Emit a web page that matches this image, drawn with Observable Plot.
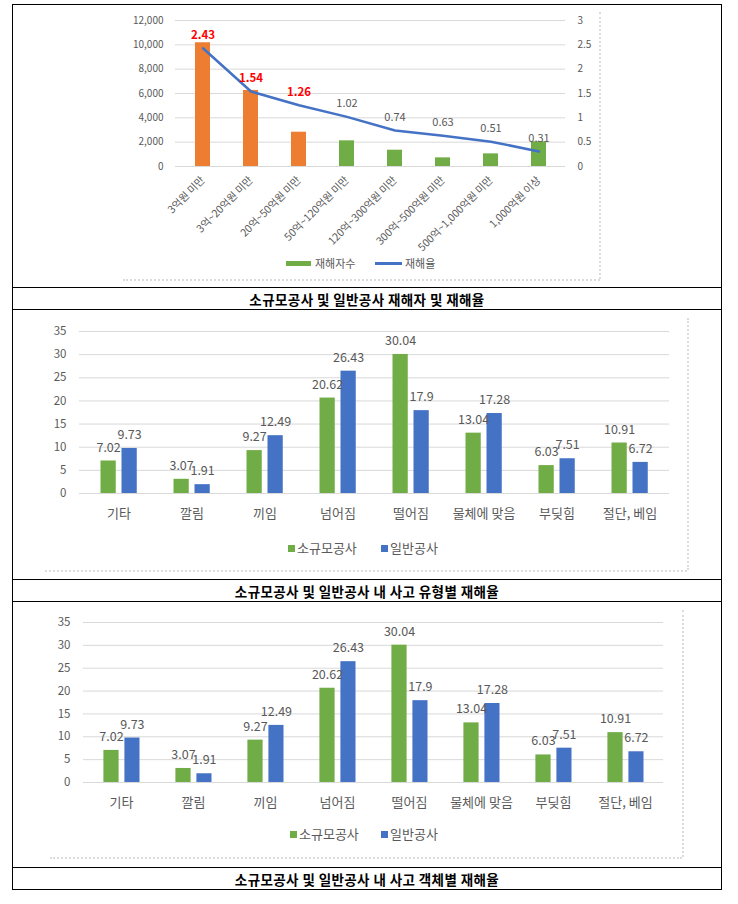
<!DOCTYPE html>
<html><head><meta charset="utf-8">
<script src="https://cdn.jsdelivr.net/npm/d3@7"></script>
<script src="https://cdn.jsdelivr.net/npm/@observablehq/plot@0.6"></script>
<style>
body{margin:0;background:#fff;font-family:"Noto Sans CJK KR","Noto Sans",sans-serif;}
#page{position:relative;width:738px;height:904px;overflow:hidden;}
.abs{position:absolute;}
.box{position:absolute;left:12px;top:4px;width:708px;height:884px;border:1.5px solid #000;}
.hl{position:absolute;left:12px;width:710px;height:0;border-top:1.5px solid #000;}
.cap{position:absolute;left:12px;width:710px;height:22px;line-height:22px;text-align:center;font-weight:bold;font-size:13.5px;letter-spacing:0.4px;color:#000;}
.shR{position:absolute;width:0;border-left:2px dotted #dcdcdc;}
.shB{position:absolute;height:0;border-top:2px dotted #dcdcdc;}
.leg{position:absolute;color:#595959;white-space:nowrap;}
svg{overflow:visible;}
</style></head>
<body><div id="page"></div>
<script>
// ---------- Data: chart 1 ----------
const sizeCats = ["3억원 미만","3억~20억원 미만","20억~50억원 미만","50억~120억원 미만","120억~300억원 미만","300억~500억원 미만","500억~1,000억원 미만","1,000억원 이상"];
const workerCounts = [10170, 6250, 2820, 2110, 1340, 710, 1040, 2030];
const injuryRates = [2.43, 1.54, 1.26, 1.02, 0.74, 0.63, 0.51, 0.31];
const contractGroup = ["소규모공사","소규모공사","소규모공사","일반공사","일반공사","일반공사","일반공사","일반공사"];
const countTicks = [0, 2000, 4000, 6000, 8000, 10000, 12000];
const chart1Series = ["재해자수", "재해율"];

// ---------- Data: charts 2 & 3 ----------
const accidentTypes = ["기타","깔림","끼임","넘어짐","떨어짐","물체에 맞음","부딪힘","절단, 베임"];
const smallRates = [7.02, 3.07, 9.27, 20.62, 30.04, 13.04, 6.03, 10.91];
const generalRates = [9.73, 1.91, 12.49, 26.43, 17.9, 17.28, 7.51, 6.72];
const rateTicks = [0, 5, 10, 15, 20, 25, 30, 35];
const groupSeries = ["소규모공사", "일반공사"];

const captions = ["소규모공사 및 일반공사 재해자 및 재해율", "소규모공사 및 일반공사 내 사고 유형별 재해율", "소규모공사 및 일반공사 내 사고 객체별 재해율"];

const ORANGE = "#ED7D31", GREEN = "#70AD47", BLUE = "#4472C4", GRID = "#D9D9D9", TXT = "#595959";
const page = document.getElementById("page");
function place(el, left, top) { el.style.position = "absolute"; el.style.left = left + "px"; el.style.top = top + "px"; page.appendChild(el); return el; }
function div(cls, css) { const d = document.createElement("div"); d.className = cls; Object.assign(d.style, css); page.appendChild(d); return d; }

// ---------- Chart 1 ----------
const RATIO = countTicks[countTicks.length - 1] / 3; // right axis 0..3
const data1 = sizeCats.map((c, i) => ({cat: c, count: workerCounts[i], rate: injuryRates[i], group: contractGroup[i]}));
const isSmall = d => d.group === "소규모공사";
const chart1 = Plot.plot({
  width: 738, height: 287,
  marginLeft: 175, marginRight: 173, marginTop: 20, marginBottom: 121,
  style: {fontFamily: '"Noto Sans CJK KR", sans-serif', fontSize: "10px", color: TXT, background: "transparent"},
  x: {domain: sizeCats, paddingInner: 0.69, paddingOuter: 0.345, label: null},
  y: {domain: [0, 12000], label: null},
  marks: [
    Plot.ruleY(countTicks, {stroke: GRID, strokeWidth: 1}),
    Plot.barY(data1, {x: "cat", y: "count", fill: d => isSmall(d) ? ORANGE : GREEN}),
    Plot.line(data1, {x: "cat", y: d => d.rate * RATIO, stroke: BLUE, strokeWidth: 2.5}),
    Plot.text(data1.filter(isSmall), {x: "cat", y: d => d.rate * RATIO, text: d => String(d.rate), dy: -13,
      fill: "#FF0000", fontWeight: "bold", fontSize: 11.5}),
    Plot.text(data1.filter(d => !isSmall(d)), {x: "cat", y: d => d.rate * RATIO, text: d => String(d.rate), dy: -13,
      fill: TXT, fontSize: 11}),
    Plot.axisY({ticks: countTicks, tickFormat: d3.format(","), tickSize: 0, tickPadding: 12, label: null, fontSize: 10}),
    Plot.axisY({anchor: "right", ticks: countTicks, tickFormat: d => String(d / RATIO), tickSize: 0, tickPadding: 12, label: null, fontSize: 10}),
    Plot.axisX({tickRotate: -45, tickSize: 0, tickPadding: 12, label: null, fontSize: 10.5})
  ]
});
place(chart1, 0, 0);
div("shR", {left: "599px", top: "12px", height: "267px"});
div("shB", {left: "123px", top: "279px", width: "477px"});
// legend chart 1
div("abs", {left: "286px", top: "261px", width: "25px", height: "5px", background: GREEN});
div("leg", {left: "315px", top: "255px", fontSize: "11px", lineHeight: "16px"}).textContent = chart1Series[0];
div("abs", {left: "375px", top: "262px", width: "27px", height: "2.5px", background: BLUE});
div("leg", {left: "405px", top: "255px", fontSize: "11px", lineHeight: "16px"}).textContent = chart1Series[1];

// ---------- Charts 2 & 3 ----------
const data2 = accidentTypes.map((c, i) => ({cat: c, small: smallRates[i], general: generalRates[i]}));
function grouped(cfg) {
  const plot = Plot.plot({
    width: 738, height: cfg.height,
    marginLeft: cfg.ml, marginRight: cfg.mr, marginTop: cfg.mt, marginBottom: cfg.mb,
    style: {fontFamily: '"Noto Sans CJK KR", sans-serif', fontSize: "11.5px", color: TXT, background: "transparent"},
    x: {domain: accidentTypes, padding: 0, label: null},
    y: {domain: [0, 35], label: null},
    marks: [
      Plot.ruleY(rateTicks, {stroke: GRID, strokeWidth: 1}),
      Plot.barY(data2, {x: "cat", y: "small", fill: GREEN, insetLeft: cfg.gL, insetRight: cfg.gR}),
      Plot.barY(data2, {x: "cat", y: "general", fill: BLUE, insetLeft: cfg.bL, insetRight: cfg.bR}),
      Plot.text(data2, {x: "cat", y: "small", text: d => String(d.small), dx: cfg.gdx, dy: -13.5, fill: TXT, fontSize: 12.5}),
      Plot.text(data2, {x: "cat", y: "general", text: d => String(d.general), dx: cfg.bdx, dy: -13.5, fill: TXT, fontSize: 12.5}),
      Plot.axisY({ticks: rateTicks, tickSize: 0, tickPadding: 13, label: null, fontSize: 11.5}),
      Plot.axisX({tickSize: 0, tickPadding: 15, label: null, fontSize: 13})
    ]
  });
  place(plot, 0, cfg.top);
  div("abs", {left: cfg.legX[0] + "px", top: (cfg.legY - 3.5) + "px", width: "7px", height: "7px", background: GREEN});
  div("leg", {left: (cfg.legX[0] + 9) + "px", top: (cfg.legY - 10) + "px", fontSize: "13px", lineHeight: "20px"}).textContent = groupSeries[0];
  div("abs", {left: cfg.legX[1] + "px", top: (cfg.legY - 3.5) + "px", width: "7px", height: "7px", background: BLUE});
  div("leg", {left: (cfg.legX[1] + 9) + "px", top: (cfg.legY - 10) + "px", fontSize: "13px", lineHeight: "20px"}).textContent = groupSeries[1];
  div("shR", {left: cfg.frame[1] + "px", top: cfg.frame[2] + "px", height: (cfg.frame[3] - cfg.frame[2]) + "px"});
  div("shB", {left: cfg.frame[0] + "px", top: cfg.frame[3] + "px", width: (cfg.frame[1] - cfg.frame[0]) + "px"});
}
grouped({top: 309, height: 270, mt: 22, mb: 86, ml: 79, mr: 69,
  gL: 18.5, gR: 39.25, bL: 39.5, bR: 18.25, gdx: -10.4, bdx: 10.6,
  legX: [288, 381], legY: 548, frame: [45, 687, 318, 570]});
grouped({top: 601, height: 266, mt: 21, mb: 85, ml: 83, mr: 75,
  gL: 18.4, gR: 38.4, bL: 39.4, bR: 17.5, gdx: -10, bdx: 10.9,
  legX: [290, 381], legY: 834, frame: [50, 682, 610, 857]});

// ---------- Table borders & captions ----------
div("box", {});
[287, 309, 579, 601, 867].forEach(y => div("hl", {top: y + "px"}));
[[287, 0], [579, 1], [867, 2]].forEach(([y, i]) => { div("cap", {top: (y + 1) + "px"}).textContent = captions[i]; });
</script></body></html>
